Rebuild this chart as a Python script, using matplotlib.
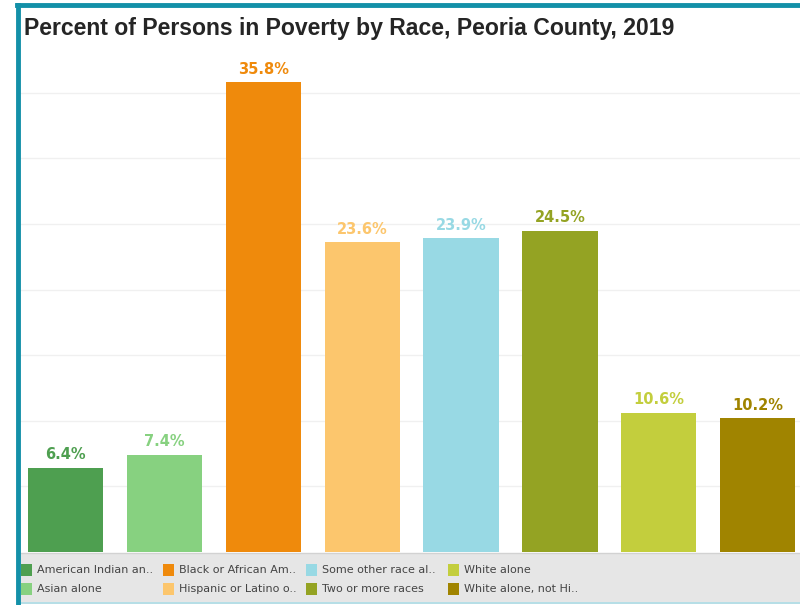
import matplotlib.pyplot as plt
from matplotlib.patches import Rectangle

categories = [
    "American Indian an..",
    "Asian alone",
    "Black or African Am..",
    "Hispanic or Latino o..",
    "Some other race al..",
    "Two or more races",
    "White alone",
    "White alone, not Hi..",
]
poverty_pct = [6.4, 7.4, 35.8, 23.6, 23.9, 24.5, 10.6, 10.2]
colors = ["#4e9f50", "#87d180", "#ef8a0c", "#fcc66d",
          "#98d9e4", "#94a323", "#c3ce3d", "#a08400"]

W, H = 800, 605
fig = plt.figure(figsize=(W / 100, H / 100), dpi=100)


def fx(px):
    return px / W


def fy(py):
    return 1 - py / H


# plot area: baseline at y=552, top at y=45
ax = fig.add_axes([fx(20), fy(552), fx(780), (552 - 45) / H])
x = list(range(len(categories)))
ax.bar(x, poverty_pct, width=0.76, color=colors, zorder=2)
for xi, v, c in zip(x, poverty_pct, colors):
    ax.annotate(f"{v}%", (xi, v), xytext=(0, 4), textcoords="offset points",
                ha="center", va="bottom", color=c, fontsize=10.5,
                fontweight="bold", family="DejaVu Sans")

ax.set_xlim(-0.46, 7.427)
ax.set_ylim(0, 38.64)
ax.set_yticks(range(5, 40, 5))
ax.yaxis.grid(True, color="#f0f0f0", lw=1, zorder=0)
ax.tick_params(left=False, bottom=False, labelleft=False, labelbottom=False)
for s in ax.spines.values():
    s.set_visible(False)

# legend strip
fig.patches.append(Rectangle((fx(20), fy(602)), fx(780), (602 - 553) / H,
                             transform=fig.transFigure, facecolor="#e6e6e6",
                             edgecolor="none", zorder=0))
fig.add_artist(plt.Line2D([fx(20), 1], [fy(553), fy(553)], color="#d2d2d2", lw=1))
fig.add_artist(plt.Line2D([fx(20), 1], [fy(603), fy(603)], color="#a8d8e2", lw=1.2))

col_x = [21, 163, 306, 448]
row_y = [570, 589]
for i, (lab, c) in enumerate(zip(categories, colors)):
    cx, ry = col_x[i // 2], row_y[i % 2]
    fig.patches.append(Rectangle((fx(cx), fy(ry + 6)), fx(11), 12 / H,
                                 transform=fig.transFigure, facecolor=c,
                                 edgecolor="none"))
    fig.text(fx(cx + 16), fy(ry), lab, ha="left", va="center",
             fontsize=8, color="#444444", family="DejaVu Sans")

# teal frame on top and left
fig.add_artist(plt.Line2D([fx(17), 1], [fy(5), fy(5)], color="#1390a8", lw=3.5))
fig.add_artist(plt.Line2D([fx(17.5), fx(17.5)], [fy(5), 0], color="#1390a8", lw=3.5))

fig.text(fx(24), fy(28), "Percent of Persons in Poverty by Race, Peoria County, 2019",
         ha="left", va="center", fontsize=16.6, fontweight="bold",
         color="#252525", family="Liberation Sans")

fig.savefig("out.png", dpi=100)
